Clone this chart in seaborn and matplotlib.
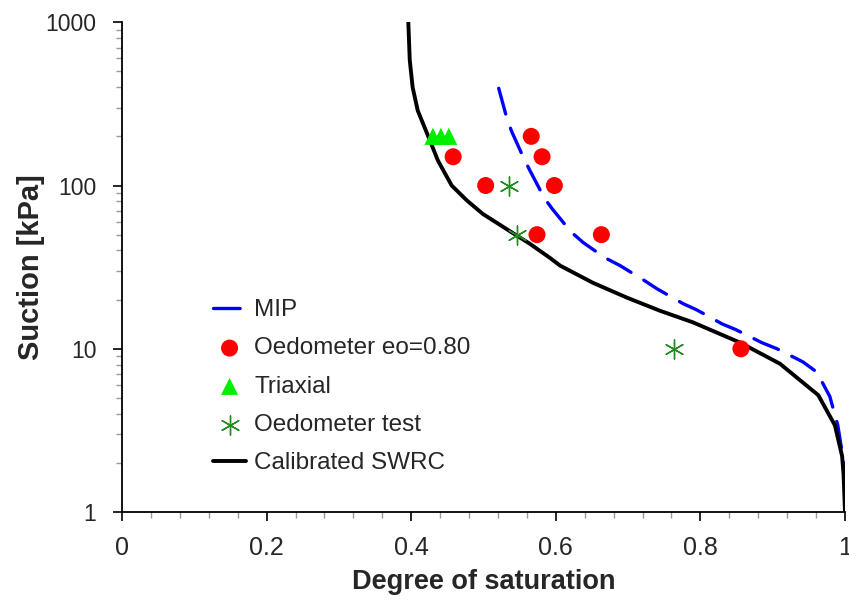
import numpy as np
import pandas as pd
import matplotlib
matplotlib.use("Agg")
import matplotlib.pyplot as plt
import seaborn as sns
from matplotlib.ticker import FixedLocator, NullFormatter, LogLocator

# --- dados ---
mip_sr = [0.521, 0.532, 0.539, 0.555, 0.564, 0.584, 0.595, 0.621, 0.638, 0.668,
          0.689, 0.723, 0.740, 0.776, 0.795, 0.830, 0.849, 0.885, 0.906, 0.942,
          0.961, 0.979, 0.990, 1.0, 1.0]
mip_s = [394, 261, 214, 149, 124, 84, 72, 52, 44.7, 36.1,
         32.3, 26.1, 23.3, 18.9, 17.3, 14.2, 13.1, 10.9, 10.0, 8.3,
         7.2, 5.1, 3.4, 1.8, 1.0]

swrc_sr = [0.396, 0.398, 0.402, 0.409, 0.422, 0.437, 0.456, 0.477, 0.499, 0.541,
           0.564, 0.592, 0.606, 0.651, 0.698, 0.744, 0.790, 0.855, 0.910, 0.963,
           0.986, 0.996, 0.998, 1.0]
swrc_s = [1000, 585, 399, 288, 208, 142, 100, 81, 67, 51,
          44, 36, 32.3, 25.4, 20.6, 17.1, 14.5, 10.9, 8.1, 5.2,
          3.4, 2.2, 1.7, 1.0]

oed_sr = [0.566, 0.581, 0.458, 0.503, 0.598, 0.574, 0.663, 0.856]
oed_s = [200, 150, 150, 100, 100, 50, 50, 10]

tri_sr = [0.430, 0.441, 0.452]
tri_s = [200, 200, 200]

test_sr = [0.535, 0.546, 0.763]
test_s = [100, 50, 10]

sns.set_theme(style="ticks")
plt.rcParams['font.family'] = ['Liberation Sans', 'DejaVu Sans']

fig = plt.figure(figsize=(8.49, 6.01), dpi=100)
ax = fig.add_axes([0.1437, 0.148, 0.8516, 0.815])

mip = pd.DataFrame({'Sr': mip_sr, 's': mip_s})
swrc = pd.DataFrame({'Sr': swrc_sr, 's': swrc_s})

sns.lineplot(data=mip, x='Sr', y='s', sort=False, estimator=None, ax=ax,
             color='#0000ff', lw=2.4, label='MIP')
ax.lines[-1].set_dashes([8, 4.5])
ax.lines[-1].set_dash_capstyle('round')
sns.scatterplot(x=oed_sr, y=oed_s, ax=ax, color='#ff0000', s=150, marker='o',
                edgecolor='none', label='Oedometer eo=0.80', zorder=5)
sns.scatterplot(x=tri_sr, y=tri_s, ax=ax, color='#00ee00', s=150, marker='^',
                edgecolor='none', label='Triaxial', zorder=5)
sns.scatterplot(x=test_sr, y=test_s, ax=ax, color='#228b22', s=190, marker=(6, 2, 0),
                linewidth=1.0, label='Oedometer test', zorder=5)
sns.lineplot(data=swrc, x='Sr', y='s', sort=False, estimator=None, ax=ax,
             color='black', lw=2.8, label='Calibrated SWRC')

ax.set_yscale('log')
ax.set_xlim(0, 1)
ax.set_ylim(1, 1000)
ax.set_xticks([0, 0.2, 0.4, 0.6, 0.8, 1.0])
ax.set_xticklabels(['0', '0.2', '0.4', '0.6', '0.8', '1'])
ax.xaxis.set_minor_locator(FixedLocator(np.arange(0, 1.001, 0.04)))
ax.set_yticks([1, 10, 100, 1000])
ax.set_yticklabels(['1', '10', '100', '1000'])
ax.yaxis.set_minor_locator(LogLocator(base=10, subs=np.arange(2, 10)))
ax.yaxis.set_minor_formatter(NullFormatter())

ax.tick_params(which='major', length=6.5, width=1.2, color='black')
ax.tick_params(which='minor', length=4.5, width=1, color='#999999')
ax.tick_params(axis='x', which='major', labelsize=18, pad=11)
ax.tick_params(axis='y', which='major', labelsize=16.5, pad=12)

for side in ['top', 'right']:
    ax.spines[side].set_visible(False)
for side in ['left', 'bottom']:
    ax.spines[side].set_color('black')
    ax.spines[side].set_linewidth(1.3)

ax.set_xlabel('Degree of saturation', fontsize=19.5, fontweight='bold', labelpad=6)
ax.set_ylabel('Suction [kPa]', fontsize=21, fontweight='bold', labelpad=0)

leg = ax.legend(loc='upper left', bbox_to_anchor=(201 / 849, 1 - 287 / 601),
                bbox_transform=fig.transFigure, frameon=False, borderpad=0,
                fontsize=17.5, handlelength=1.35, handletextpad=0.35, labelspacing=0.67)

fig.savefig('out.png', dpi=100)
